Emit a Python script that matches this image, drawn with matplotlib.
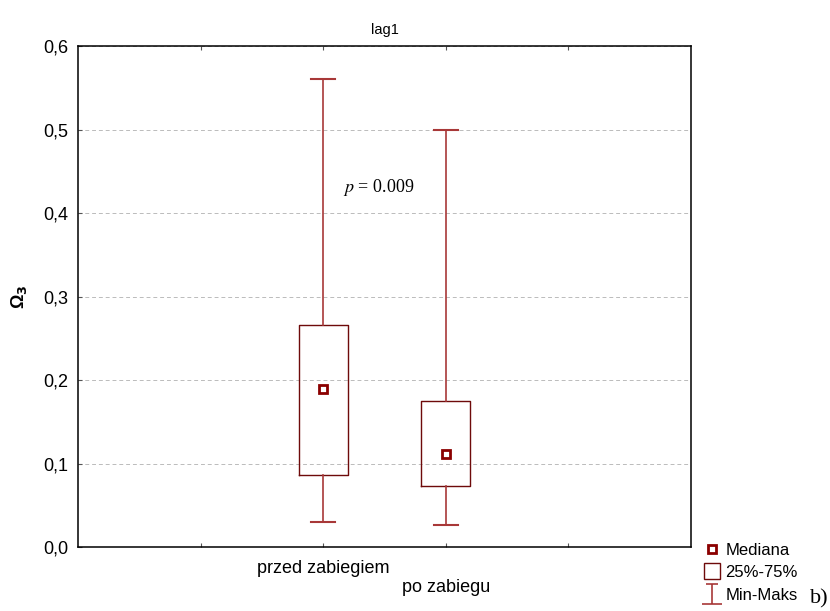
import matplotlib.pyplot as plt
from matplotlib.lines import Line2D
from matplotlib.path import Path

plt.rcParams['font.family'] = ['Liberation Sans', 'DejaVu Sans']

groups = ['przed zabiegiem', 'po zabiegu']
medians = [0.189, 0.111]
q1 = [0.086, 0.073]
q3 = [0.266, 0.175]
mins = [0.030, 0.026]
maxs = [0.560, 0.500]
yticks = [0.0, 0.1, 0.2, 0.3, 0.4, 0.5, 0.6]
p_text = '$p$ = 0.009'

box_col = '#6e0a0a'
whisk_col = '#a83838'
med_col = '#8b0000'

fig = plt.figure(figsize=(8.3, 6.11), dpi=100)
ax = fig.add_axes([0.094, 0.1047, 0.7385, 0.82])

stats = []
for i in range(len(groups)):
    stats.append({'med': medians[i], 'q1': q1[i], 'q3': q3[i],
                  'whislo': mins[i], 'whishi': maxs[i], 'label': groups[i]})
pos = [1, 2]
ax.bxp(stats, positions=pos, widths=0.4, showfliers=False,
       boxprops=dict(color=box_col, lw=1),
       whiskerprops=dict(color=whisk_col, lw=1.2),
       capprops=dict(color=whisk_col, lw=1.5),
       medianprops=dict(visible=False))
ax.plot(pos, medians, ls='none', marker='s', ms=6, mfc='white',
        mec=med_col, mew=2, zorder=5)

ax.set_xlim(-1, 4)
ax.set_ylim(0, 0.6)
ax.set_xticks([0, 1, 2, 3])
ax.set_xticklabels(['', groups[0], '\n' + groups[1], ''], fontsize=13)
ax.set_yticks(yticks)
ax.set_yticklabels([f'{v:.1f}'.replace('.', ',') for v in yticks], fontsize=13)
ax.tick_params(direction='in', length=3, top=True, color='#555555')
ax.tick_params(axis='x', pad=9)
ax.tick_params(axis='y', pad=7)
ax.yaxis.grid(True, ls=(0, (4, 3)), color='#bbbbbb', lw=0.7)
ax.set_axisbelow(True)
for s in ax.spines.values():
    s.set_linewidth(1.1)

ax.set_title('lag1', fontsize=10.5, pad=9)
ax.set_ylabel('Ω$_\\mathbf{3}$', fontsize=13, fontweight='bold', labelpad=10)
ax.text(1.45, 0.431, p_text, fontsize=13, family='Liberation Serif',
        math_fontfamily='stix', ha='center', va='center')

# legend handle for min-max: I-shape
ibar = Path([(-0.3, 0.5), (0.3, 0.5), (0, 0.5), (0, -0.5), (-0.5, -0.5), (0.5, -0.5)],
            [Path.MOVETO, Path.LINETO, Path.MOVETO, Path.LINETO, Path.MOVETO, Path.LINETO])
handles = [Line2D([], [], ls='none', marker='s', ms=6, mfc='white', mec=med_col, mew=2),
           Line2D([], [], ls='none', marker='s', ms=11, mfc='white', mec=box_col, mew=1),
           Line2D([], [], ls='none', marker=ibar, ms=14, mec=whisk_col, mew=1.2)]
fig.legend(handles, ['Mediana', '25%-75%', 'Min-Maks'], loc='upper left',
           bbox_to_anchor=(0.848, 0.112), frameon=False, fontsize=12,
           handlelength=1.0, handleheight=0.6, handletextpad=0.3,
           labelspacing=0.45, borderpad=0, borderaxespad=0)
fig.text(0.998, 0.012, 'b)', fontsize=16, family='Liberation Serif', ha='right')

fig.savefig('out.png', dpi=100)
